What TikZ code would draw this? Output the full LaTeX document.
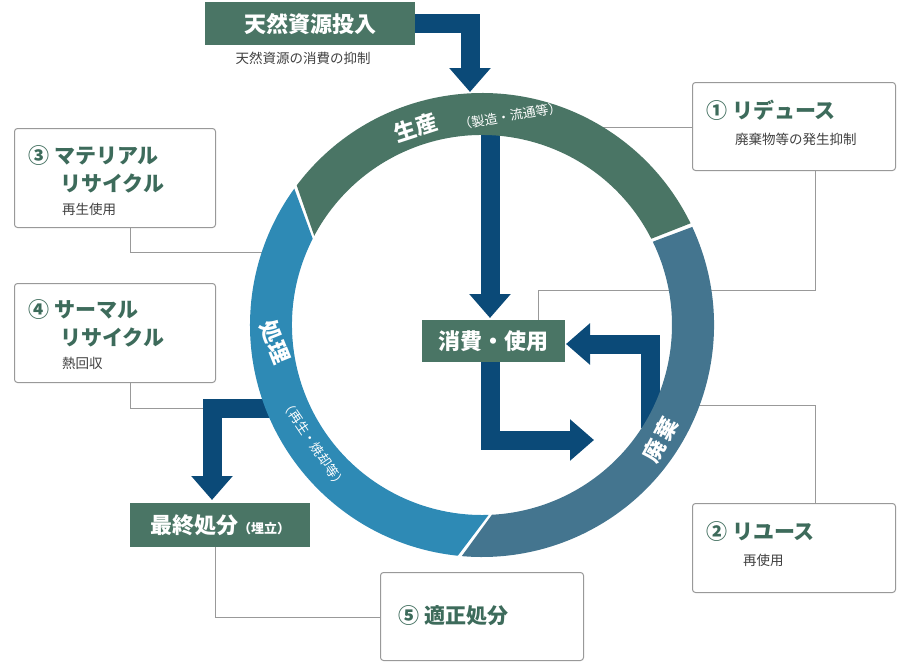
\documentclass[tikz,border=0pt]{standalone}
\usepackage{fontspec}
\newfontfamily\jp{Noto Sans CJK JP}
\usetikzlibrary{arrows.meta,calc}
\definecolor{gr}{HTML}{4A7565}
\definecolor{sl}{HTML}{44758F}
\definecolor{bl}{HTML}{2E8AB5}
\definecolor{ar}{HTML}{0B4A78}
\definecolor{tg}{HTML}{3D6B5B}
\definecolor{ln}{HTML}{999999}
\tikzset{
 gbox/.style={fill=gr,text=white,font=\jp\bfseries\fontsize{22}{22}\selectfont,inner sep=0pt,anchor=north west},
 wbox/.style={draw=ln,line width=1pt,rounded corners=3pt,fill=white,anchor=north west,inner sep=0pt},
 ttl/.style={text=tg,font=\jp\bfseries\fontsize{21}{28}\selectfont,align=left,anchor=north west,inner sep=0pt},
 sub/.style={text=black!75,font=\jp\fontsize{13.5}{14}\selectfont,anchor=north west,inner sep=0pt},
 fat/.style={draw=ar,line width=19pt,-{Triangle[length=24pt,width=40pt]}},
 con/.style={draw=ln,line width=1pt},
 rl/.style={text=white,font=\jp\bfseries\fontsize{22}{22}\selectfont},
 rs/.style={text=white,font=\jp\fontsize{13}{13}\selectfont,inner sep=0pt}
}
\newcommand{\seg}[5]{\fill[#1] (482,325) ++(#2:232) arc[start angle=#2,end angle=#3,radius=232] -- ($(482,325)+(#5:190)$) arc[start angle=#5,end angle=#4,radius=190] -- cycle;}
\begin{document}
\begin{tikzpicture}[x=1pt,y=-1pt]
\useasboundingbox (0,0) rectangle (905,665);
% connectors
\draw[con] (130,227) -- (130,252) -- (262,252);
\draw[con] (692,127) -- (600,127);
\draw[con] (130,382) -- (130,408) -- (275,408);
\draw[con] (815,503) -- (815,405) -- (690,405);
\draw[con] (815,170) -- (815,290) -- (538,290) -- (538,322);
\draw[con] (215,547) -- (215,617) -- (380,617);
% fat arrows (under ring)
\draw[fat] (415,23) -- (470,23) -- (470,92);
\draw[fat] (490,130) -- (490,318);
\draw[fat] (490,362) -- (490,440) -- (594,440);
\draw[fat] (650,428) -- (650,344) -- (566,344);
\draw[fat] (275,408) -- (212,408) -- (212,500);
% ring
\seg{gr}{-143}{-26}{-152}{-27}
\seg{sl}{-25}{95}{-26}{87}
\seg{bl}{96}{216}{88}{207}
% ring labels
\node[rl,rotate=18] (sp) at (416,128) {生産};
\node[rs,rotate=10] (sps) at (510,116) {（製造・流通等）};
\node[rl,rotate=62] (hk) at (660,440) {廃\,棄};
\node[rl,rotate=-68] (sr) at (275,342) {処理};
\node[rs,rotate=-56] (srs) at (314,444) {（再生・焼却等）};
% green boxes
\node[gbox,minimum width=210pt,minimum height=43pt] (nr) at (205,2) {天然資源投入};
\node[sub,anchor=north] (nrs) at (303,52) {天然資源の消費の抑制};
\node[gbox,minimum width=143pt,minimum height=42pt] (sh) at (422,320) {消費・使用};
\node[gbox,minimum width=180pt,minimum height=44pt] (ss) at (130,503) {最終処分{\fontsize{13}{13}\selectfont（埋立）}};
% white boxes
\node[wbox,minimum width=203pt,minimum height=88pt] (b1) at (692,82) {};
\node[ttl] at (706,100) {① リデュース};
\node[sub] at (735,133) {廃棄物等の発生抑制};
\node[wbox,minimum width=201pt,minimum height=99pt] (b3) at (14,128) {};
\node[ttl] at (28,145) {③ マテリアル\\\hspace*{32pt}リサイクル};
\node[sub] at (62,203) {再生使用};
\node[wbox,minimum width=201pt,minimum height=99pt] (b4) at (14,283) {};
\node[ttl] at (28,299) {④ サーマル\\\hspace*{32pt}リサイクル};
\node[sub] at (62,357) {熱回収};
\node[wbox,minimum width=203pt,minimum height=89pt] (b2) at (692,503) {};
\node[ttl] at (706,521) {② リユース};
\node[sub] at (743,554) {再使用};
\node[wbox,minimum width=203pt,minimum height=88pt] (b5) at (380,572) {};
\node[ttl] at (398,605) {⑤ 適正処分};
\end{tikzpicture}
\end{document}
